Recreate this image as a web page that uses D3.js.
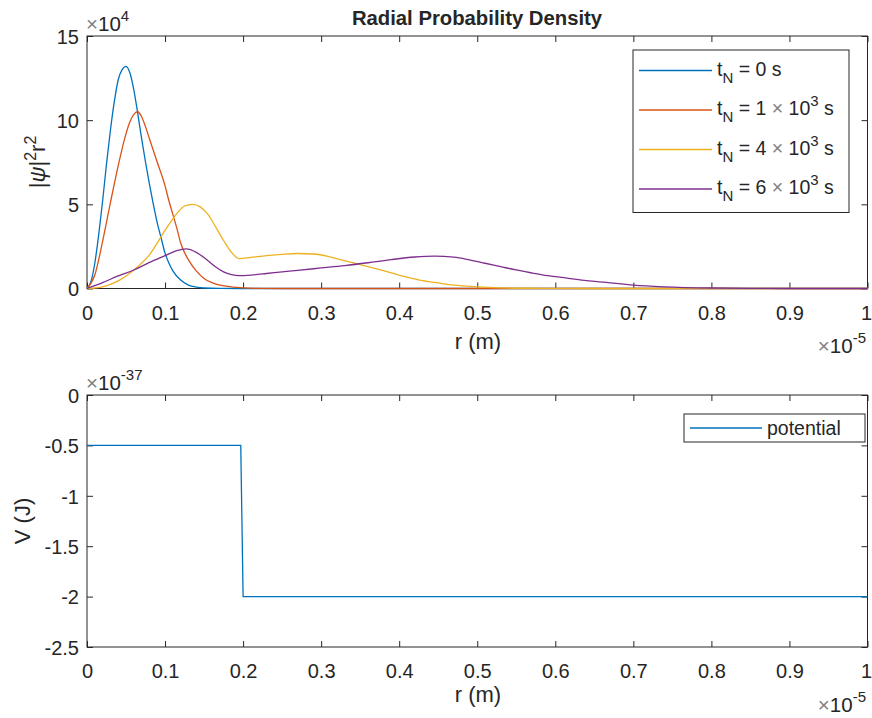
<!DOCTYPE html>
<html>
<head>
<meta charset="utf-8">
<script src="https://cdn.jsdelivr.net/npm/d3@7"></script>
<style>
  body { margin: 0; background: #fff; }
  svg { display: block; }
  text { font-family: "Liberation Sans", Arial, Helvetica, sans-serif; fill: #262626; }
  .tick text { font-size: 20px; }
</style>
</head>
<body>
<svg id="fig" width="872" height="718"></svg>
<script>
// r em unidades de 1e-5 m, densidade em unidades de 1e4
const R_T0 = [0, 0.005, 0.01, 0.015, 0.02, 0.025, 0.03, 0.035, 0.04, 0.045, 0.05, 0.055, 0.06, 0.065, 0.07, 0.075, 0.08, 0.085, 0.09, 0.095, 0.1, 0.105, 0.11, 0.12, 0.13, 0.14, 0.15, 0.17, 0.2, 0.4, 0.6, 0.8, 1.0];
const P_T0 = [0, 0.4, 1.5, 3.2, 5.2, 7.4, 9.4, 11.1, 12.4, 13.0, 13.2, 12.8, 11.8, 10.4, 8.9, 7.5, 6.2, 5.0, 3.9, 3.0, 2.1, 1.5, 1.05, 0.5, 0.2, 0.08, 0.03, 0.005, 0, 0, 0, 0, 0];

const R_T1 = [0, 0.01, 0.02, 0.03, 0.04, 0.05, 0.055, 0.06, 0.065, 0.07, 0.075, 0.08, 0.09, 0.1, 0.105, 0.11, 0.115, 0.12, 0.13, 0.14, 0.15, 0.16, 0.18, 0.2, 0.22, 0.25, 0.4, 0.6, 0.8, 1.0];
const P_T1 = [0, 0.8, 2.8, 5.1, 7.3, 9.2, 9.9, 10.35, 10.5, 10.2, 9.6, 8.9, 7.5, 6.1, 5.2, 4.4, 3.6, 2.7, 1.7, 1.05, 0.6, 0.35, 0.12, 0.04, 0.01, 0, 0, 0, 0, 0];

const R_T4 = [0, 0.02, 0.04, 0.06, 0.08, 0.1, 0.115, 0.125, 0.135, 0.145, 0.155, 0.165, 0.175, 0.185, 0.195, 0.21, 0.23, 0.25, 0.27, 0.29, 0.31, 0.33, 0.35, 0.37, 0.39, 0.41, 0.43, 0.45, 0.47, 0.5, 0.53, 0.56, 0.6, 0.7, 0.8, 1.0];
const P_T4 = [0, 0.1, 0.45, 1.1, 2.0, 3.45, 4.45, 4.9, 5.0, 4.85, 4.4, 3.65, 2.85, 2.15, 1.78, 1.85, 1.95, 2.03, 2.08, 2.05, 1.9, 1.65, 1.42, 1.18, 0.93, 0.68, 0.47, 0.33, 0.2, 0.1, 0.04, 0.015, 0.005, 0, 0, 0];

const R_T6 = [0, 0.02, 0.04, 0.06, 0.08, 0.1, 0.115, 0.127, 0.14, 0.155, 0.165, 0.175, 0.185, 0.195, 0.21, 0.23, 0.25, 0.27, 0.3, 0.33, 0.36, 0.39, 0.42, 0.445, 0.47, 0.49, 0.51, 0.53, 0.55, 0.57, 0.59, 0.615, 0.64, 0.665, 0.7, 0.74, 0.8, 0.85, 0.9, 1.0];
const P_T6 = [0, 0.35, 0.75, 1.1, 1.55, 1.95, 2.25, 2.35, 2.15, 1.65, 1.28, 0.99, 0.83, 0.77, 0.8, 0.89, 0.99, 1.08, 1.22, 1.36, 1.53, 1.72, 1.87, 1.92, 1.86, 1.7, 1.5, 1.3, 1.1, 0.92, 0.76, 0.62, 0.47, 0.36, 0.2, 0.1, 0.03, 0.01, 0, 0];

// potencial em unidades de 1e-37 J
const R_V = [0, 0.197, 0.2, 1.0];
const V_POT = [-0.5, -0.5, -2, -2];

const X_TICKS = [0, 0.1, 0.2, 0.3, 0.4, 0.5, 0.6, 0.7, 0.8, 0.9, 1];
const X_TICK_LABELS = ["0", "0.1", "0.2", "0.3", "0.4", "0.5", "0.6", "0.7", "0.8", "0.9", "1"];
const Y1_TICKS = [0, 5, 10, 15];
const Y1_TICK_LABELS = ["0", "5", "10", "15"];
const Y2_TICKS = [0, -0.5, -1, -1.5, -2, -2.5];
const Y2_TICK_LABELS = ["0", "-0.5", "-1", "-1.5", "-2", "-2.5"];

// legenda: valor antes de "× 10^3" (null = sem expoente)
const LEGEND_T = ["0", "1", "4", "6"];
const LEGEND_EXP = [null, "3", "3", "3"];
const COLORS = ["#0072BD", "#D95319", "#EDB120", "#7E2F8E"];

const SERIES = [
  { r: R_T0, p: P_T0 },
  { r: R_T1, p: P_T1 },
  { r: R_T4, p: P_T4 },
  { r: R_T6, p: P_T6 },
];

const svg = d3.select("#fig");
const AX = "#262626";
const LABEL_FS = "22px";

const x = d3.scaleLinear().domain([0, 1]).range([87, 867.5]);
const yTop = d3.scaleLinear().domain([0, 15]).range([288.5, 36]);
const yBot = d3.scaleLinear().domain([-2.5, 0]).range([647, 395]);

// moldura estilo MATLAB: caixa fechada, ticks para dentro nos 4 lados
function frame(y, yTicks, yLabels) {
  const [yb, yt] = y.range();
  const g = svg.append("g").style("color", AX);

  g.append("g").attr("transform", `translate(0,${yb})`)
    .call(d3.axisBottom(x).tickValues(X_TICKS).tickFormat((d, i) => X_TICK_LABELS[i]).tickSize(-6))
    .call((a) => a.attr("font-size", null).attr("font-family", null))
    .selectAll("text").attr("y", 31).attr("dy", null)
    // o último rótulo ("1") encosta na borda direita da figura
    .filter((d) => d === 1).attr("text-anchor", "end").attr("x", 4);

  g.append("g").attr("transform", `translate(0,${yt})`)
    .call(d3.axisTop(x).tickValues(X_TICKS).tickFormat("").tickSize(-6));

  g.append("g").attr("transform", `translate(${x.range()[0]},0)`)
    .call(d3.axisLeft(y).tickValues(yTicks).tickFormat((d, i) => yLabels[i]).tickSize(-6))
    .call((a) => a.attr("font-size", null).attr("font-family", null))
    .selectAll("text").attr("x", -8).attr("dy", "0.36em");

  g.append("g").attr("transform", `translate(${x.range()[1]},0)`)
    .call(d3.axisRight(y).tickValues(yTicks).tickFormat("").tickSize(-6));

  g.selectAll(".domain").remove();
  g.selectAll(".tick line").attr("stroke", AX);

  g.append("rect")
    .attr("x", x.range()[0]).attr("y", yt)
    .attr("width", x.range()[1] - x.range()[0]).attr("height", yb - yt)
    .attr("fill", "none").attr("stroke", AX).attr("stroke-width", 1);
}

// rótulo "×10^e"
function expLabel(px, py, e, anchor) {
  const t = svg.append("text").attr("x", px).attr("y", py)
    .style("font-size", "20.5px").attr("text-anchor", anchor || "start");
  t.append("tspan").text("×").style("fill", "#808080");
  t.append("tspan").text("10");
  t.append("tspan").text(e).attr("dy", -10).style("font-size", "15px");
}

// ---------- gráfico superior ----------
frame(yTop, Y1_TICKS, Y1_TICK_LABELS);

const line = d3.line().x((d) => x(d[0])).y((d) => yTop(d[1])).curve(d3.curveMonotoneX);
SERIES.forEach((s, i) => {
  svg.append("path")
    .datum(s.r.map((r, k) => [r, s.p[k]]))
    .attr("fill", "none").attr("stroke", COLORS[i]).attr("stroke-width", 1.3)
    .attr("d", line);
});

svg.append("text").attr("x", 477).attr("y", 25)
  .attr("text-anchor", "middle").style("font-size", "20.3px").style("font-weight", "bold")
  .text("Radial Probability Density");

expLabel(86, 31, "4");
expLabel(866, 353, "-5", "end");

svg.append("text").attr("x", 478).attr("y", 349)
  .attr("text-anchor", "middle").style("font-size", LABEL_FS).text("r (m)");

{
  const t = svg.append("text")
    .attr("transform", "translate(45,162) rotate(-90)")
    .attr("text-anchor", "middle").style("font-size", LABEL_FS);
  t.append("tspan").text("|");
  t.append("tspan").text("ψ").style("font-style", "italic");
  t.append("tspan").text("|");
  t.append("tspan").text("2").attr("dy", -9).style("font-size", "16px");
  t.append("tspan").text("r").attr("dy", 9);
  t.append("tspan").text("2").attr("dy", -9).style("font-size", "16px");
}

// legenda superior
{
  const lg = svg.append("g");
  lg.append("rect").attr("x", 633).attr("y", 50).attr("width", 216).attr("height", 162.5)
    .attr("fill", "#fff").attr("stroke", AX).attr("stroke-width", 1);
  LEGEND_T.forEach((v, i) => {
    const ly = 70.5 + i * 39.5;
    lg.append("line").attr("x1", 639).attr("x2", 712).attr("y1", ly).attr("y2", ly)
      .attr("stroke", COLORS[i]).attr("stroke-width", 1.3);
    const t = lg.append("text").attr("x", 717).attr("y", ly + 5).style("font-size", "19.5px");
    t.append("tspan").text("t");
    t.append("tspan").text("N").attr("dy", 7).style("font-size", "15px");
    if (LEGEND_EXP[i] === null) {
      t.append("tspan").text(" = " + v + " s").attr("dy", -7);
    } else {
      t.append("tspan").text(" = " + v + " ").attr("dy", -7);
      t.append("tspan").text("×").style("fill", "#808080");
      t.append("tspan").text(" 10");
      t.append("tspan").text(LEGEND_EXP[i]).attr("dy", -9).style("font-size", "15px");
      t.append("tspan").text(" s").attr("dy", 9);
    }
  });
}

// ---------- gráfico inferior ----------
frame(yBot, Y2_TICKS, Y2_TICK_LABELS);

const vline = d3.line().x((d) => x(d[0])).y((d) => yBot(d[1]));
svg.append("path")
  .datum(R_V.map((r, k) => [r, V_POT[k]]))
  .attr("fill", "none").attr("stroke", COLORS[0]).attr("stroke-width", 1.3)
  .attr("d", vline);

expLabel(86, 390, "-37");
expLabel(866, 712, "-5", "end");

svg.append("text").attr("x", 478).attr("y", 702)
  .attr("text-anchor", "middle").style("font-size", LABEL_FS).text("r (m)");

svg.append("text")
  .attr("transform", "translate(30,521) rotate(-90)")
  .attr("text-anchor", "middle").style("font-size", LABEL_FS).text("V (J)");

{
  const lg = svg.append("g");
  lg.append("rect").attr("x", 684).attr("y", 414).attr("width", 181).attr("height", 28)
    .attr("fill", "#fff").attr("stroke", AX).attr("stroke-width", 1);
  lg.append("line").attr("x1", 690).attr("x2", 762).attr("y1", 428).attr("y2", 428)
    .attr("stroke", COLORS[0]).attr("stroke-width", 1.3);
  lg.append("text").attr("x", 767).attr("y", 435).style("font-size", "19.5px").text("potential");
}
</script>
</body>
</html>
